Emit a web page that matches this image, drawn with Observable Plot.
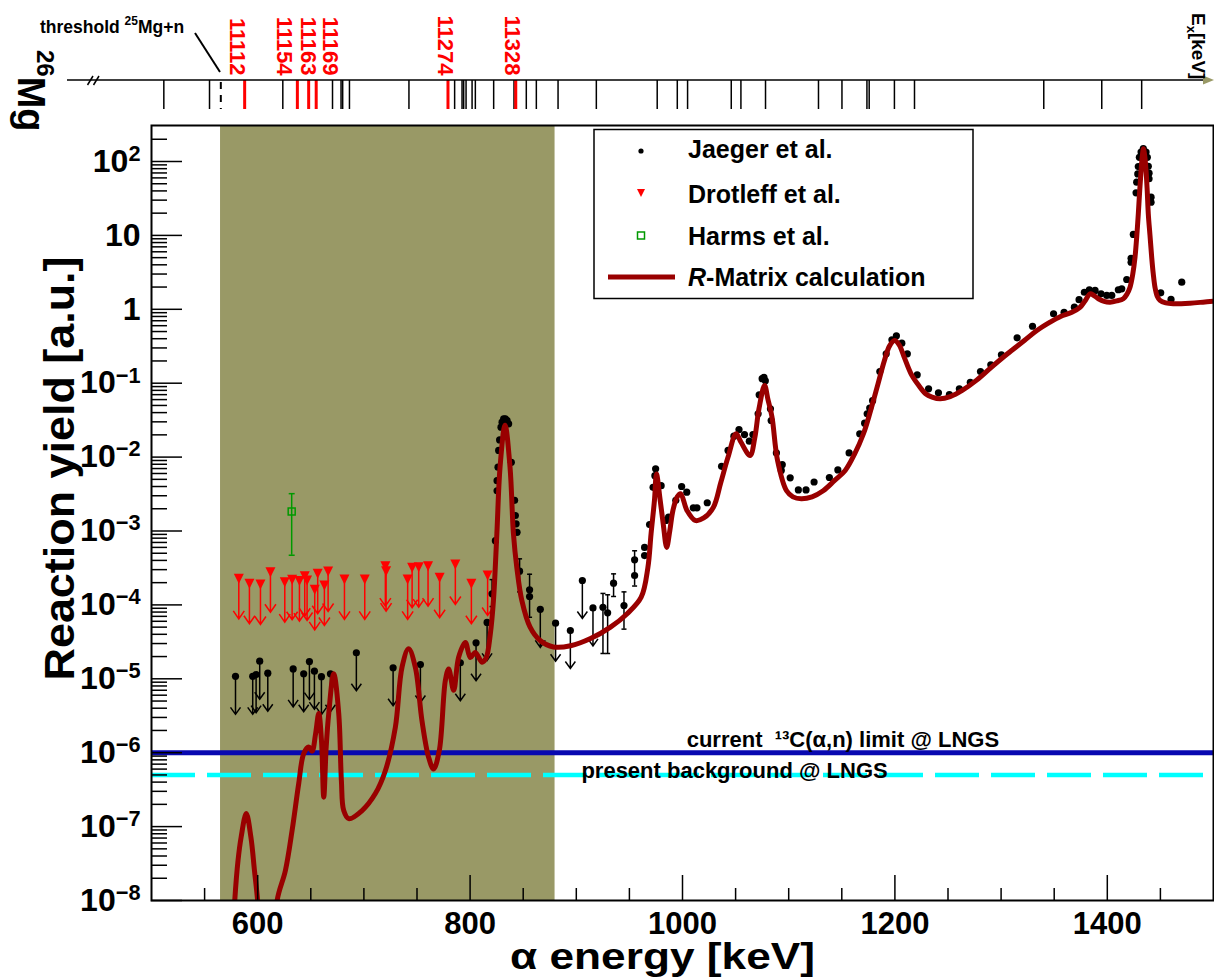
<!DOCTYPE html>
<html>
<head>
<meta charset="utf-8">
<script src="https://cdn.jsdelivr.net/npm/d3@7"></script>
<script src="https://cdn.jsdelivr.net/npm/@observablehq/plot@0.6"></script>
<style>
html,body{margin:0;padding:0;background:#fff;}
#wrap{position:relative;width:1214px;height:978px;overflow:hidden;background:#fff;}
#wrap svg{position:absolute;left:0;top:0;}
</style>
</head>
<body>
<div id="wrap"></div>
<script>
// ---------------- data ----------------
const xTicksMajor = [600, 800, 1000, 1200, 1400];
const xTicksMinor = [550, 650, 700, 750, 850, 900, 950, 1050, 1100, 1150, 1250, 1300, 1350, 1450];
const yTicksMajor = [1e-8, 1e-7, 1e-6, 1e-5, 1e-4, 1e-3, 1e-2, 1e-1, 1, 10, 100];
const yTickLabels = ["10^\u22128","10^\u22127","10^\u22126","10^\u22125","10^\u22124","10^\u22123","10^\u22122","10^\u22121","1","10","10^2"];

const bandE = [565, 880];          // shaded α-energy window (keV)
const limit13C = 1e-6;             // current 13C(α,n) limit @ LNGS
const backgroundLNGS = 5e-7;       // present background @ LNGS

// R-Matrix calculation
const rmatrixE = [574,578.4,581.5,584.4,589.2,593.6,597,599.9,604,610,615,618.3,626.1,632.4,638.6,643.3,648.0,651.2,654.5,657.5,660,662.2,664.5,666.9,671.6,676.3,678.8,681.0,685.7,698.3,710.8,720.2,729.6,735.9,742.1,748.4,754.7,760.9,765.6,771.0,776.7,779.8,784.5,789.2,795.5,800.2,804.9,811.2,815,819,822,825.2,828.2,832.9,837.6,840.8,844,848.7,856.5,865.9,878.5,894.6,913.4,932.2,947.9,961.1,967.4,970.4,973.6,975.5,979,982,985.1,988,991,995,998.2,1004.2,1011.9,1020,1029.1,1036,1042.9,1050.5,1055,1063.6,1068,1072,1077.3,1080.5,1084.3,1089.5,1098,1104,1111.8,1122,1132.5,1143,1153.2,1162,1170.4,1177,1184.1,1190,1195,1199.7,1204,1209,1215.2,1222,1228.9,1235,1242.7,1252,1263.4,1277,1291,1306,1321.9,1334,1346.1,1356,1366.7,1374,1379,1383.8,1387,1391.6,1397,1402.6,1409,1415.1,1418.5,1421.4,1424,1426.1,1427.8,1429.2,1430.5,1431.8,1433,1434,1435.2,1436.5,1437.6,1438.6,1440.2,1441.8,1443.3,1444.9,1447,1449.6,1455,1462.1,1477.9,1490,1500];
const rmatrixY = [5e-10,1e-8,3.5e-8,7.2e-8,1.5e-7,7.2e-8,2.5e-8,1e-8,1e-9,3e-10,1.5e-9,1e-8,2.55e-8,8.9e-8,3.8e-7,9.7e-7,1.19e-6,1.05e-6,1.8e-6,3.4e-6,1.5e-6,2.5e-7,1.2e-6,3.4e-6,1.17e-5,3.4e-6,4.2e-7,1.65e-7,1.28e-7,1.65e-7,2.8e-7,5.7e-7,2.2e-6,1.44e-5,2.55e-5,1.44e-5,2.7e-6,8.7e-7,6.0e-7,1.07e-6,9.5e-6,1.36e-5,7.0e-6,1.96e-5,3.1e-5,1.94e-5,2.27e-5,1.68e-5,1.9e-5,4e-5,1.15e-4,9.2e-4,7.3e-3,0.027,7.3e-3,9.2e-4,3.2e-4,1.15e-4,5.0e-5,3.3e-5,2.7e-5,2.8e-5,3.5e-5,5.0e-5,7.6e-5,1.27e-4,3.2e-4,9.2e-4,2.6e-3,5.9e-3,2.6e-3,1.2e-3,6.0e-4,1.0e-3,1.9e-3,2.9e-3,3.2e-3,1.9e-3,1.39e-3,1.5e-3,2.1e-3,4.5e-3,1.0e-2,0.0207,0.016,0.0105,0.018,0.045,0.093,0.06,0.0347,9.0e-3,3.5e-3,2.9e-3,2.73e-3,2.9e-3,3.5e-3,4.8e-3,6.6e-3,0.011,0.0207,0.042,0.098,0.2,0.32,0.378,0.33,0.22,0.134,0.095,0.072,0.065,0.0615,0.066,0.08,0.11,0.165,0.25,0.378,0.52,0.67,0.8,0.91,1.05,1.3,1.62,1.55,1.39,1.28,1.25,1.3,1.39,1.6,1.99,3.0,5.07,10,19.6,40,75,120,149,120,75,40,19.6,10,5.07,3.0,1.99,1.5,1.32,1.22,1.19,1.21,1.25,1.29];

// Jaeger et al. – measured yields
const jaegerE = [820.7,823.8,825.4,825.4,826.3,826.9,827.8,829.1,830.1,831.6,833.2,834.8,836.3,838.8,841.9,842.6,843.3,844.2,846.6,856.0,856.0,925.1,929.5,935.1,944.9,954.9,954.9,964.3,964.3,969,972.3,974,974.7,979.9,984.3,986.9,993.7,999.2,1004,1010.2,1013.6,1023.3,1036.8,1042.9,1048.4,1053.2,1058.4,1062.9,1066.3,1071.2,1072.2,1075,1076.7,1078,1082.8,1083.5,1088.4,1093,1093.9,1101.4,1109.1,1116.3,1123.9,1138.3,1146.3,1156.9,1166.9,1171.5,1173.9,1176.3,1179,1185.8,1191.8,1197.2,1201.4,1206.5,1211.7,1221,1231.7,1241,1251.3,1260.7,1271,1280.6,1290.3,1300.3,1315.1,1329.6,1349.4,1359.3,1369,1373.4,1378.4,1383.1,1388.5,1394.1,1399.5,1404.2,1410.4,1413.6,1418.3,1422.4,1422.4,1424.5,1427.1,1427.7,1428.7,1429.2,1430.2,1431.8,1433.9,1436.5,1437.7,1438.6,1439.3,1439.3,1441.2,1441.2,1450.3,1460,1470.1];
const jaegerY = [1.41e-4,7.4e-4,3.5e-3,4.8e-3,7.3e-3,0.0123,0.0171,0.0254,0.0297,0.033,0.033,0.0313,0.0282,8.5e-3,2.6e-3,1.62e-3,1.25e-3,9.6e-4,2.86e-4,1.6e-4,1.3e-4,9.3e-5,7.8e-5,1.97e-4,9.8e-5,2.5e-4,4.07e-4,6.0e-4,4.65e-4,1.22e-3,3.9e-3,5.6e-3,6.95e-3,4.1e-3,1.39e-3,1.54e-3,2.6e-3,4.0e-3,3.35e-3,2.06e-3,2.06e-3,2.41e-3,7.5e-3,0.0123,0.0192,0.0236,0.0202,0.0164,0.0202,0.0386,0.0697,0.115,0.12,0.108,0.045,0.0313,0.0114,6.6e-3,7.9e-3,5.25e-3,3.6e-3,3.6e-3,4.6e-3,5.3e-3,6.7e-3,0.0114,0.0207,0.0288,0.0386,0.046,0.058,0.144,0.25,0.386,0.438,0.348,0.25,0.13,0.084,0.074,0.07,0.084,0.103,0.144,0.177,0.242,0.411,0.59,0.87,0.91,1.07,1.35,1.70,1.84,1.80,1.62,1.54,1.54,1.84,1.89,2.53,4.33,4.91,10.3,37.7,52.5,68,85.5,114,134,149,134,114,86,69.5,58.4,32.9,28.1,1.67,1.36,2.33];
// Jaeger et al. – error bars
const jaegerErrE  = [820.7, 846.6, 856.0, 925.1, 929.5, 935.1, 944.9, 954.9];
const jaegerErrLo = [9.5e-5, 1.5e-4, 6.8e-5, 2.2e-5, 2.2e-5, 1.3e-4, 4.7e-5, 1.8e-4];
const jaegerErrHi = [2.2e-4, 4.2e-4, 2.6e-4, 1.43e-4, 1.37e-4, 2.63e-4, 1.5e-4, 5.4e-4];
// Jaeger et al. – upper limits
const jaegerLimitE = [579.1,595.3,598.5,601.9,609.5,633.4,643.3,648.7,653.4,660.0,668.5,692.9,727.5,753.2,790.8,805.6,816.0,866.1,880.5,894.4,905.7,915.7];
const jaegerLimitY = [1.08e-5,1.08e-5,1.14e-5,1.73e-5,1.19e-5,1.36e-5,1.17e-5,1.71e-5,1.27e-5,1.07e-5,1.17e-5,2.25e-5,1.41e-5,1.56e-5,1.65e-5,3.07e-5,5.8e-5,8.7e-5,5.65e-5,4.5e-5,2.14e-4,9.1e-5];

// Drotleff et al. – upper limits
const drotleffE = [582.2,592.2,602.6,612.0,625.5,632.4,639.3,644.3,646.5,653.7,656.5,662.8,666.3,681.7,700.8,720.2,720.9,741.2,745.4,751.6,760.4,771.3,786.1,801.2,816.5];
const drotleffY = [2.25e-4,1.93e-4,1.89e-4,2.77e-4,2.03e-4,2.19e-4,2.1e-4,2.44e-4,2.14e-4,1.6e-4,2.64e-4,1.83e-4,2.83e-4,2.21e-4,2.21e-4,3.34e-4,2.86e-4,2.21e-4,3.18e-4,3.24e-4,3.34e-4,2.33e-4,3.52e-4,1.93e-4,2.5e-4];

// Harms et al.
const harmsE = [632], harmsY = [1.84e-3], harmsLo = [4.7e-4], harmsHi = [3.2e-3];

// 26Mg level scheme (excitation energies, keV)
const levelsEx = [11047.6,11084.0,11142.4,11182.0,11188.8,11190.1,11195.5,11242.9,11279.3,11285.2,11286.5,11288.4,11293.2,11295.8,11310.4,11326.6,11336.4,11344.4,11361.7,11392.2,11440.7,11456.7,11464.9,11499.7,11507.4,11527.0,11569.2,11587.9,11607.8,11609.6,11629.7,11645.7,11748.7,11794.9,11826.7];
const levelsRedEx = [11112, 11154, 11163, 11169, 11274, 11328];
const thresholdEx = 11093;          // 25Mg+n threshold
const alphaSeparation = 10614.7;    // 26Mg α separation energy
const legendLabels = ["Jaeger et al.", "Drotleff et al.", "Harms et al.", "R-Matrix calculation"];

// ---------------- build ----------------
(function () {
const FONT = "'Liberation Sans', Arial, Helvetica, sans-serif";
const toAlpha = ex => (ex - alphaSeparation) * 26 / 22;

const rmatrix = rmatrixE.map((e, i) => ({e, y: rmatrixY[i]}));
const jaeger = jaegerE.map((e, i) => ({e, y: jaegerY[i]}));
const jaegerErr = jaegerErrE.map((e, i) => ({e, lo: jaegerErrLo[i], hi: jaegerErrHi[i]}));
const jaegerLim = jaegerLimitE.map((e, i) => ({e, y: jaegerLimitY[i]}));
const drotleff = drotleffE.map((e, i) => ({e, y: drotleffY[i]}));
const harms = harmsE.map((e, i) => ({e, y: harmsY[i], lo: harmsLo[i], hi: harmsHi[i]}));
const yMinor = [];
for (let k = -8; k <= 2; k++) for (let m = 2; m <= 9; m++) { const v = m * Math.pow(10, k); if (v < 300) yMinor.push(v); }
const yLabelMap = new Map(yTicksMajor.map((v, i) => [v, yTickLabels[i]]));

const arrowSym = (len, w, h) => ({draw(c) { c.moveTo(0, 0); c.lineTo(0, len); c.moveTo(-w, len - h); c.lineTo(0, len); c.lineTo(w, len - h); }});
const triDown = {draw(c) { c.moveTo(-5, -5); c.lineTo(5, -5); c.lineTo(0, 5); c.closePath(); }};
const capSym = w => ({draw(c) { c.moveTo(-w, 0); c.lineTo(w, 0); }});
const squareSym = {draw(c) { c.rect(-3.5, -3.5, 7, 7); }};

const W = 1214, H = 978;
const yTop = Math.pow(10, 2 + 36 / 73.9);

const mainPlot = Plot.plot({
  width: W, height: H,
  marginLeft: 151, marginRight: 1, marginTop: 125, marginBottom: 78,
  style: {fontFamily: FONT, fontWeight: "bold", background: "white", overflow: "visible"},
  x: {domain: [500, 1500]},
  y: {type: "log", domain: [1e-8, yTop]},
  marks: [
    Plot.rect([{lo: bandE[0], hi: bandE[1]}], {x1: "lo", x2: "hi", fill: "#999966"}),
    Plot.ruleY([backgroundLNGS], {stroke: "#00ffff", strokeWidth: 4.5, strokeDasharray: "44,12"}),
    Plot.ruleY([limit13C], {stroke: "#0808b0", strokeWidth: 5}),
    // Harms
    Plot.ruleX(harms, {x: "e", y1: "lo", y2: "hi", stroke: "#009900", strokeWidth: 1.5}),
    Plot.dot(harms, {x: "e", y: "lo", symbol: capSym(3), stroke: "#009900", strokeWidth: 1.5, fill: "none"}),
    Plot.dot(harms, {x: "e", y: "hi", symbol: capSym(3), stroke: "#009900", strokeWidth: 1.5, fill: "none"}),
    Plot.dot(harms, {x: "e", y: "y", symbol: squareSym, stroke: "#009900", strokeWidth: 1.5, fill: "none"}),
    // Drotleff
    Plot.dot(drotleff, {x: "e", y: "y", symbol: arrowSym(40, 5.5, 8), stroke: "#ff0000", strokeWidth: 1.5, fill: "none"}),
    Plot.dot(drotleff, {x: "e", y: "y", symbol: triDown, fill: "#ff0000", stroke: "none"}),
    // Jaeger
    Plot.ruleX(jaegerErr, {x: "e", y1: "lo", y2: "hi", stroke: "black", strokeWidth: 1.5}),
    Plot.dot(jaegerErr, {x: "e", y: "lo", symbol: capSym(2.5), stroke: "black", strokeWidth: 1.5, fill: "none"}),
    Plot.dot(jaegerErr, {x: "e", y: "hi", symbol: capSym(2.5), stroke: "black", strokeWidth: 1.5, fill: "none"}),
    Plot.dot(jaegerLim, {x: "e", y: "y", symbol: arrowSym(38, 5, 7), stroke: "black", strokeWidth: 1.5, fill: "none"}),
    Plot.dot(jaegerLim, {x: "e", y: "y", r: 3.6, fill: "black", stroke: "none"}),
    Plot.dot(jaeger, {x: "e", y: "y", r: 3.6, fill: "black", stroke: "none"}),
    // R-matrix
    Plot.line(rmatrix, {x: "e", y: "y", stroke: "#990000", strokeWidth: 5, curve: "catmull-rom", clip: true, strokeLinejoin: "round"}),
    // annotations
    Plot.text([{e: 1151, v: limit13C, s: "current\u00a0 \u00b9\u00b3C(\u03b1,n) limit @ LNGS"}], {x: "e", y: "v", text: "s", lineAnchor: "bottom", dy: -6, fontSize: 22, fontWeight: "bold", fill: "black"}),
    Plot.text([{e: 1049, v: backgroundLNGS, s: "present background @ LNGS"}], {x: "e", y: "v", text: "s", lineAnchor: "middle", dy: -4, fontSize: 22, fontWeight: "bold", fill: "black"}),
    // ticks (inward)
    Plot.tickY(yMinor, {y: d => d, stroke: "black", strokeWidth: 1.5, insetRight: 1062 - 16}),
    Plot.tickY(yTicksMajor, {y: d => d, stroke: "black", strokeWidth: 1.5, insetRight: 1062 - 31}),
    Plot.tickX(xTicksMinor, {x: d => d, stroke: "black", strokeWidth: 1.5, insetTop: 775 - 12}),
    Plot.tickX(xTicksMajor, {x: d => d, stroke: "black", strokeWidth: 1.5, insetTop: 775 - 25}),
    Plot.axisX(xTicksMajor, {tickSize: 0, tickPadding: 11, fontSize: 31, fontWeight: "bold", tickFormat: d => String(d), label: null}),
    Plot.axisY(yTicksMajor, {tickSize: 0, tickPadding: 11, fontSize: 32, fontWeight: "bold", tickFormat: d => yLabelMap.get(d), label: null}),
    // axis titles
    Plot.text(["Reaction yield [a.u.]"], {text: d => d, frameAnchor: "top-left", rotate: -90, textAnchor: "end", lineAnchor: "bottom", dx: -78, dy: 131, fontSize: 42, fontWeight: "bold"}),
    Plot.text(["\u03b1 energy [keV]"], {text: d => d, frameAnchor: "bottom", lineAnchor: "bottom", dx: -20, dy: 68, fontSize: 37, fontWeight: "bold"}),
    Plot.frame({stroke: "black", strokeWidth: 2})
  ]
});

// superscript exponents for y tick labels; title lengths
d3.select(mainPlot).selectAll("text").each(function () {
  const t = this.textContent;
  const m = /^10\^(.+)$/.exec(t);
  if (m && this.childElementCount === 0) {
    this.textContent = "10";
    d3.select(this).append("tspan").attr("dy", "-0.5em").attr("font-size", "0.68em").text(m[1]);
  } else if (t === "Reaction yield [a.u.]") {
    this.setAttribute("textLength", 424);
    this.setAttribute("lengthAdjust", "spacingAndGlyphs");
  } else if (t === "\u03b1 energy [keV]") {
    this.setAttribute("textLength", 305);
    this.setAttribute("lengthAdjust", "spacingAndGlyphs");
  }
});

// legend
const lg = d3.select(mainPlot).append("g").attr("font-family", FONT).attr("font-weight", "bold").attr("text-anchor", "start");
lg.append("rect").attr("x", 594).attr("y", 129.5).attr("width", 379).attr("height", 169).attr("fill", "white").attr("stroke", "black").attr("stroke-width", 1.5);
const rows = [149, 194, 235.5, 277];
lg.append("circle").attr("cx", 641).attr("cy", rows[0] + 2).attr("r", 2.6).attr("fill", "black");
lg.append("path").attr("d", `M637,${rows[1] - 5} L645,${rows[1] - 5} L641,${rows[1] + 3} Z`).attr("fill", "#ff0000");
lg.append("rect").attr("x", 637.5).attr("y", rows[2] - 3.5).attr("width", 7).attr("height", 7).attr("fill", "none").attr("stroke", "#009900").attr("stroke-width", 1.5);
lg.append("line").attr("x1", 608).attr("x2", 675).attr("y1", rows[3]).attr("y2", rows[3]).attr("stroke", "#990000").attr("stroke-width", 5);
legendLabels.forEach((s, i) => {
  const t = lg.append("text").attr("x", 688).attr("y", rows[i] + 9).attr("font-size", 25).attr("fill", "black").attr("text-anchor", "start");
  if (s.startsWith("R-")) {
    t.append("tspan").attr("font-style", "italic").text("R");
    t.append("tspan").text(s.slice(1));
  } else t.text(s);
});

// ---------------- level scheme (top) ----------------
const redShift = [-8, -13.5, -0.7, 14.3, -2.6, -3.7];
const levelPlot = Plot.plot({
  width: W, height: 125,
  marginLeft: 151, marginRight: 1, marginTop: 80, marginBottom: 16,
  style: {fontFamily: FONT, fontWeight: "bold", background: "transparent", overflow: "visible"},
  x: {domain: [500, 1500], axis: null},
  marks: [
    Plot.ruleX(levelsEx, {x: toAlpha, stroke: "black", strokeWidth: 1.5}),
    Plot.ruleX(levelsRedEx, {x: toAlpha, stroke: "#ff0000", strokeWidth: 3}),
    Plot.ruleX([thresholdEx], {x: toAlpha, stroke: "black", strokeWidth: 2, strokeDasharray: "7,6", strokeDashoffset: -2}),
    ...levelsRedEx.map((ex, i) => Plot.text([ex], {x: toAlpha, text: d => String(d), frameAnchor: "top", rotate: 90, textAnchor: "end", lineAnchor: "middle", dy: -5, dx: redShift[i], fill: "#ff0000", fontSize: 22, fontWeight: "bold"}))
  ]
});

const deco = d3.select(levelPlot).append("g").attr("font-family", FONT).attr("font-weight", "bold").attr("text-anchor", "start");
deco.append("line").attr("x1", 67).attr("x2", 1205).attr("y1", 80).attr("y2", 80).attr("stroke", "black").attr("stroke-width", 1.5);
deco.append("path").attr("d", "M1203,75.5 L1214,80 L1203,84.5 Z").attr("fill", "#999966");
deco.append("line").attr("x1", 87.5).attr("y1", 85).attr("x2", 93).attr("y2", 76).attr("stroke", "black").attr("stroke-width", 1.5);
deco.append("line").attr("x1", 93.5).attr("y1", 85).attr("x2", 99).attr("y2", 76).attr("stroke", "black").attr("stroke-width", 1.5);
deco.append("line").attr("x1", 220).attr("y1", 72).attr("x2", 195).attr("y2", 33).attr("stroke", "black").attr("stroke-width", 2);
const th = deco.append("text").attr("x", 40).attr("y", 33).attr("font-size", 17.5).attr("fill", "black").attr("text-anchor", "start");
th.append("tspan").text("threshold ");
th.append("tspan").attr("font-size", 12).attr("dy", -8).text("25");
th.append("tspan").attr("dy", 8).text("Mg+n");
const mg = deco.append("text").attr("transform", "translate(18,50) rotate(90)").attr("fill", "black").attr("text-anchor", "start");
mg.append("tspan").attr("font-size", 24).attr("dy", -19).text("26");
mg.append("tspan").attr("font-size", 38).attr("dy", 19).text("Mg");
const exl = deco.append("text").attr("transform", "translate(1192,13) rotate(90)").attr("fill", "black").attr("font-size", 19).attr("text-anchor", "start");
exl.append("tspan").text("E");
exl.append("tspan").attr("font-size", 13).attr("dy", 5).text("x");
exl.append("tspan").attr("dy", -5).text("[keV]");

const wrap = document.getElementById("wrap");
wrap.appendChild(mainPlot);
wrap.appendChild(levelPlot);
})();
</script>
</body>
</html>
